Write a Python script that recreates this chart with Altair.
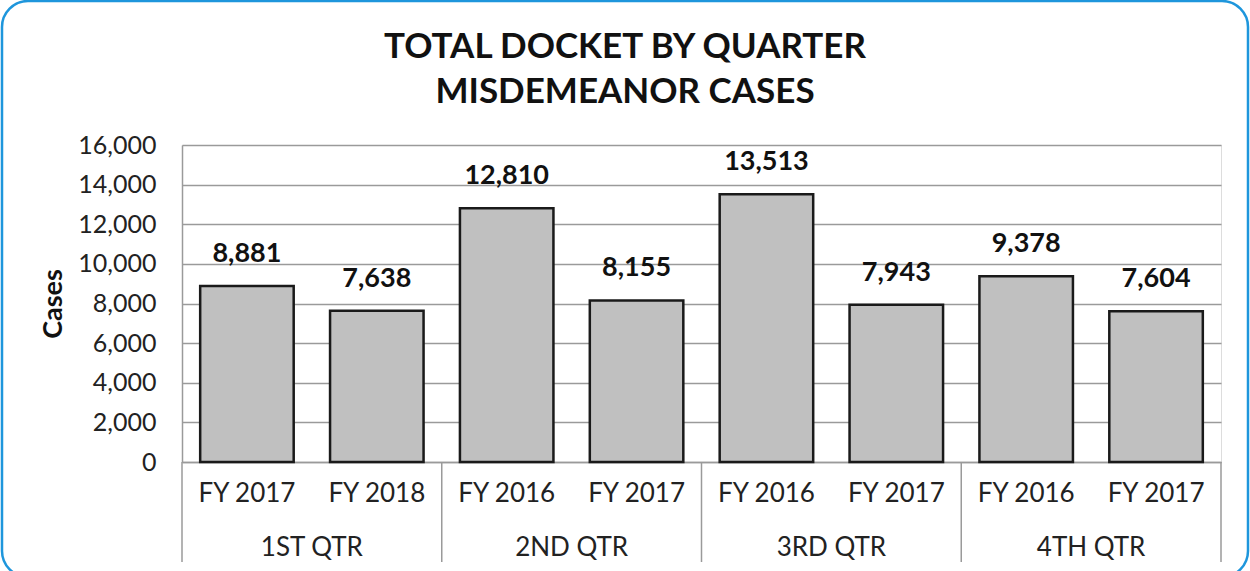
import altair as alt
import pandas as pd

quarters = ["1ST QTR", "1ST QTR", "2ND QTR", "2ND QTR", "3RD QTR", "3RD QTR", "4TH QTR", "4TH QTR"]
years = ["FY 2017", "FY 2018", "FY 2016", "FY 2017", "FY 2016", "FY 2017", "FY 2016", "FY 2017"]
cases = [8881, 7638, 12810, 8155, 13513, 7943, 9378, 7604]
quarter_names = ["1ST QTR", "2ND QTR", "3RD QTR", "4TH QTR"]
title_lines = ["TOTAL DOCKET BY QUARTER", "MISDEMEANOR CASES"]
y_ticks = [0, 2000, 4000, 6000, 8000, 10000, 12000, 14000, 16000]

keys = [f"{q}|{y}" for q, y in zip(quarters, years)]
df = pd.DataFrame({"key": keys, "quarter": quarters, "year": years, "cases": cases})

first_keys = [keys[quarters.index(q)] for q in quarter_names]
last_keys = [keys[len(quarters) - 1 - quarters[::-1].index(q)] for q in quarter_names]

W, H = 1039, 317
FONT = "Lato"
GRID = "#9a9a9a"

xscale = alt.Scale(domain=keys, paddingInner=0, paddingOuter=0)
xenc = alt.X("key:N", scale=xscale, sort=keys,
             axis=alt.Axis(title=None, labelExpr="split(datum.value, '|')[1]",
                           labelAngle=0, labelFontSize=26, labelFont=FONT,
                           labelColor="#222222", labelPadding=18, ticks=False,
                           domain=True, domainColor=GRID, domainWidth=1.5))

yenc = alt.Y("cases:Q", scale=alt.Scale(domain=[0, 16000], nice=False),
             axis=alt.Axis(title="Cases", values=y_ticks, tickCount=9,
                           labelExpr="format(datum.value, ',')", labelOverlap=False,
                           labelFontSize=25, labelFont=FONT, labelColor="#222222",
                           labelPadding=26, ticks=False, domain=True, domainColor=GRID,
                           domainWidth=1.5, grid=True, gridColor=GRID, gridWidth=1.5,
                           titleFontSize=27, titleFont=FONT, titleFontWeight="bold",
                           titleColor="#111111", titlePadding=10))

bars = alt.Chart(df).mark_bar(
    width=alt.RelativeBandSize(0.72), color="#c0c0c0", stroke="#1a1a1a", strokeWidth=2.5
).encode(x=xenc, y=yenc)

labels = alt.Chart(df).mark_text(
    baseline="bottom", dy=-18, fontSize=27, font=FONT, fontWeight="bold", color="#111111"
).encode(x=xenc, y=yenc, text=alt.Text("cases:Q", format=","))

qdf = pd.DataFrame({"key": last_keys, "quarter": quarter_names})
qlabels = alt.Chart(qdf).mark_text(
    fontSize=26, font=FONT, color="#222222", baseline="middle"
).encode(x=alt.X("key:N", scale=xscale, sort=keys, bandPosition=0), y=alt.value(H + 86), text="quarter:N")

sep_start = alt.Chart(pd.DataFrame({"key": first_keys})).mark_rule(color=GRID, strokeWidth=1.5).encode(
    x=alt.X("key:N", scale=xscale, sort=keys, bandPosition=0), y=alt.value(H), y2=alt.value(H + 100))
sep_end = alt.Chart(pd.DataFrame({"key": [keys[-1]]})).mark_rule(color=GRID, strokeWidth=1.5).encode(
    x=alt.X("key:N", scale=xscale, sort=keys, bandPosition=1), y=alt.value(H), y2=alt.value(H + 100))

border = alt.Chart(alt.Data(values=[{"a": 1}])).mark_rect(
    fill=None, stroke="#1e96dc", strokeWidth=2.5, cornerRadius=26
).encode(x=alt.value(-180), x2=alt.value(1066), y=alt.value(-144), y2=alt.value(432))

title_layers = []
for i, line in enumerate(title_lines):
    title_layers.append(
        alt.Chart(pd.DataFrame({"line": [line]})).mark_text(
            fontSize=35, font=FONT, fontWeight="bold", color="#111111",
            baseline="middle", align="center"
        ).encode(x=alt.value(443), y=alt.value(-98 + 45 * i), text="line:N")
    )

chart = alt.layer(border, bars, labels, qlabels, sep_start, sep_end, *title_layers).properties(
    width=W, height=H,
    autosize=alt.AutoSizeParams(type="none"),
    padding={"left": 182, "top": 145, "right": 29, "bottom": 109},
).configure_view(strokeWidth=0, stroke="transparent").configure(background="white")

chart.save("out.html", embed_options={"renderer": "svg", "actions": False})
